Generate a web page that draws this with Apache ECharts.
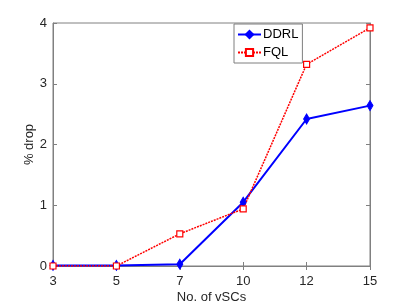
<!DOCTYPE html>
<html><head><meta charset="utf-8">
<script src="https://cdn.jsdelivr.net/npm/echarts@6/dist/echarts.min.js"></script>
<style>html,body{margin:0;padding:0;background:#fff}#c{width:408px;height:306px}</style>
</head><body><div id="c"></div>
<script>
const categories = ['3','5','7','10','12','15'];
const ddrl = [0.01, 0.01, 0.03, 1.05, 2.42, 2.64];
const fql = [0.0, 0.0, 0.53, 0.94, 3.32, 3.92];
const yTicks = [0,1,2,3,4];

const chart = echarts.init(document.getElementById('c'));
const axisCol = '#808080';
const txt = '#262626';
const font = 'Liberation Sans, Arial, sans-serif';
chart.setOption({
  animation:false,
  grid:{left:53,right:38,top:23,bottom:40,show:true,borderColor:axisCol,borderWidth:1,
        containLabel:false, outerBoundsMode:'none'},
  legend:{
    data:['DDRL','FQL'], orient:'vertical', left:234, top:24,
    width:67, padding:[4,4,4,3], itemGap:5, itemWidth:23, itemHeight:9,
    backgroundColor:'#fff', borderColor:'#7f7f7f', borderWidth:1, borderRadius:0,
    textStyle:{fontFamily:font,fontSize:13,color:'#000',padding:[0,0,0,-3]}
  },
  xAxis:[{
    type:'category', data:categories, boundaryGap:false,
    axisLine:{lineStyle:{color:axisCol}},
    axisTick:{inside:true,length:4,lineStyle:{color:axisCol},alignWithLabel:true},
    axisLabel:{color:txt,fontFamily:font,fontSize:13,margin:9},
    name:'No. of vSCs', nameLocation:'middle', nameGap:25, nameMoveOverlap:false,
    nameTextStyle:{color:txt,fontFamily:font,fontSize:13},
    splitLine:{show:false}
  },{
    type:'category', data:categories, boundaryGap:false, position:'top',
    axisLine:{lineStyle:{color:axisCol}},
    axisTick:{inside:true,length:4,lineStyle:{color:axisCol}},
    axisLabel:{show:false}
  }],
  yAxis:[{
    type:'value', min:0, max:4, interval:1,
    axisLine:{show:true,lineStyle:{color:axisCol}},
    axisTick:{show:true,inside:true,length:4,lineStyle:{color:axisCol}},
    axisLabel:{color:txt,fontFamily:font,fontSize:13,margin:6},
    splitLine:{show:false},
    name:'% drop', nameLocation:'middle', nameGap:17, nameRotate:90, nameMoveOverlap:false,
    nameTextStyle:{color:txt,fontFamily:font,fontSize:13}
  },{
    type:'value', min:0, max:4, interval:1, position:'right',
    axisLine:{show:true,lineStyle:{color:axisCol}},
    axisTick:{show:true,inside:true,length:4,lineStyle:{color:axisCol}},
    axisLabel:{show:false}, splitLine:{show:false}
  }],
  series:[{
    name:'DDRL', type:'line', data:ddrl, xAxisIndex:0, yAxisIndex:0,
    symbol:'diamond', symbolSize:[6,10], showAllSymbol:true,
    lineStyle:{color:'#0000ff',width:2},
    itemStyle:{color:'#0000ff',borderColor:'#0000ff',borderWidth:1}
  },{
    name:'FQL', type:'line', data:fql, xAxisIndex:0, yAxisIndex:0,
    symbol:'rect', symbolSize:6, showAllSymbol:true,
    lineStyle:{color:'#ff0000',width:1.5,type:[2,1]},
    itemStyle:{color:'#fff',borderColor:'#ff0000',borderWidth:1.2},
    z:3
  }]
});
</script></body></html>
